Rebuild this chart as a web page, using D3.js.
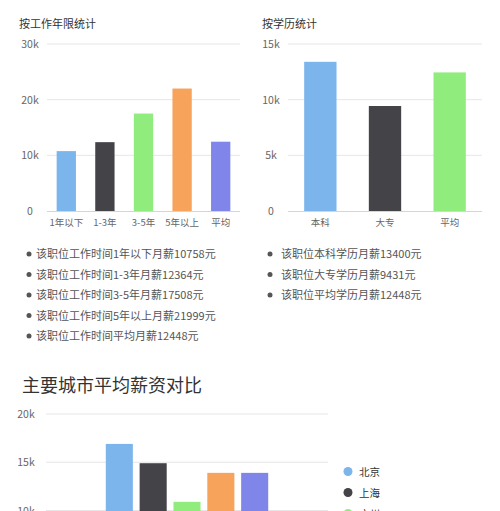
<!DOCTYPE html>
<html><head><meta charset="utf-8">
<script src="https://cdn.jsdelivr.net/npm/d3@7/dist/d3.min.js"></script>
<style>
html,body{margin:0;padding:0;background:#fff;}
svg{display:block;font-family:"Noto Sans CJK SC","Noto Sans",sans-serif;}
</style></head><body>
<svg id="c" width="500" height="511"></svg>
<script>
const colors = ["#7cb5ec","#434348","#90ed7d","#f7a35c","#8085e9"];

const yearTitle = "按工作年限统计";
const yearCats = ["1年以下","1-3年","3-5年","5年以上","平均"];
const yearVals = [10758, 12364, 17508, 21999, 12448];
const yearTicks = [0, 10000, 20000, 30000];

const eduTitle = "按学历统计";
const eduCats = ["本科","大专","平均"];
const eduVals = [13400, 9431, 12448];
const eduTicks = [0, 5000, 10000, 15000];

const yearNotes = ["该职位工作时间1年以下月薪10758元","该职位工作时间1-3年月薪12364元","该职位工作时间3-5年月薪17508元","该职位工作时间5年以上月薪21999元","该职位工作时间平均月薪12448元"];
const eduNotes = ["该职位本科学历月薪13400元","该职位大专学历月薪9431元","该职位平均学历月薪12448元"];

const cityTitle = "主要城市平均薪资对比";
const cities = ["北京","上海","广州","深圳","杭州"];
const cityVals = [16900, 14900, 10900, 13900, 13900];
const cityTicks = [0, 5000, 10000, 15000, 20000];

const H = 511;
const svg = d3.select("#c");
const fmt = v => v === 0 ? "0" : (v/1000) + "k";

function barChart(o){
  const g = svg.append("g");
  g.append("text").attr("x", o.titleX).attr("y", 28).attr("font-size", 11).attr("fill", "#333").text(o.title);
  const x = d3.scaleBand().domain(o.cats).range([o.x0, o.x1]).paddingInner(0.5).paddingOuter(0.25);
  const y = d3.scaleLinear().domain([0, o.ticks[o.ticks.length-1]]).range([211, 44]);
  g.selectAll(".grid").data(o.ticks.slice(1)).join("line")
    .attr("x1", o.x0).attr("x2", o.x1).attr("y1", d => y(d)).attr("y2", d => y(d))
    .attr("stroke", "#e6e6e6").attr("stroke-width", 1);
  g.selectAll(".tl").data(o.ticks).join("text")
    .attr("x", o.labelX).attr("y", d => y(d) + 4).attr("text-anchor", "middle")
    .attr("font-size", 10.5).attr("fill", "#666").text(fmt);
  g.selectAll(".bar").data(o.vals).join("rect")
    .attr("x", (d,i) => x(o.cats[i])).attr("width", x.bandwidth())
    .attr("y", d => y(d)).attr("height", d => y(0) - y(d))
    .attr("fill", (d,i) => colors[i]);
  g.append("line").attr("x1", o.x0).attr("x2", o.x1).attr("y1", y(0)+0.5).attr("y2", y(0)+0.5)
    .attr("stroke", "#ccd6eb");
  g.selectAll(".xl").data(o.cats).join("text")
    .attr("x", d => x(d) + x.bandwidth()/2).attr("y", 226).attr("text-anchor", "middle")
    .attr("font-size", 9.5).attr("fill", "#666").text(d => d);
}

barChart({title: yearTitle, titleX: 19, cats: yearCats, vals: yearVals, ticks: yearTicks, x0: 47, x1: 240, labelX: 30});
barChart({title: eduTitle, titleX: 262, cats: eduCats, vals: eduVals, ticks: eduTicks, x0: 288, x1: 482, labelX: 271});

function notes(list, bx, tx){
  const g = svg.append("g");
  list.forEach((t, i) => {
    const cy = 254 + i * 20.5;
    g.append("circle").attr("cx", bx).attr("cy", cy).attr("r", 2.5).attr("fill", "#555");
    g.append("text").attr("x", tx).attr("y", cy + 4).attr("font-size", 11).attr("fill", "#555").text(t);
  });
}
notes(yearNotes, 29, 36);
notes(eduNotes, 270, 281);

// City chart (page continues below the photographed window)
const cg = svg.append("g");
cg.append("text").attr("x", 22).attr("y", 392).attr("font-size", 18).attr("fill", "#333").text(cityTitle);
const cy = d3.scaleLinear().domain([0, 20000]).range([607, 414]);
const cx0 = d3.scaleBand().domain(["城市"]).range([46, 328]).paddingInner(0).paddingOuter(0);
const gStart = cx0("城市") + cx0.bandwidth()*0.2;
const cx1 = d3.scaleBand().domain(cities).range([gStart, gStart + cx0.bandwidth()*0.6]).paddingInner(0.2).paddingOuter(0.1);
cg.selectAll(".grid").data(cityTicks.slice(1)).join("line")
  .attr("x1", 46).attr("x2", 328).attr("y1", d => cy(d)).attr("y2", d => cy(d))
  .attr("stroke", "#e6e6e6");
cg.selectAll(".tl").data(cityTicks.filter(t => cy(t) < H + 4)).join("text")
  .attr("x", 26).attr("y", d => cy(d) + 4).attr("text-anchor", "middle")
  .attr("font-size", 10.5).attr("fill", "#666").text(fmt);
cg.selectAll(".bar").data(cityVals).join("rect")
  .attr("x", (d,i) => cx1(cities[i])).attr("width", cx1.bandwidth())
  .attr("y", d => cy(d)).attr("height", d => cy(0) - cy(d))
  .attr("fill", (d,i) => colors[i]);
cities.forEach((c, i) => {
  const ly = 471.5 + i * 21;
  if (ly - 5 > H) return;
  cg.append("circle").attr("cx", 348).attr("cy", ly).attr("r", 4.5).attr("fill", colors[i]);
  cg.append("text").attr("x", 359).attr("y", ly + 4).attr("font-size", 10.5).attr("fill", "#333").text(c);
});
</script>
</body></html>
